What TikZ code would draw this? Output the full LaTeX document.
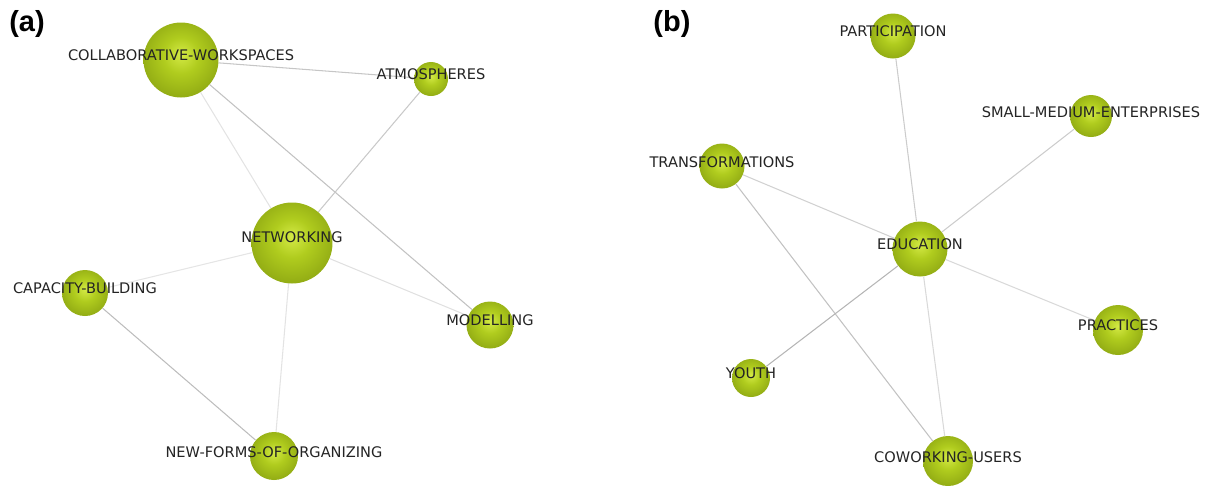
\documentclass[tikz,border=0pt]{standalone}
\usepackage{fontspec}
\setmainfont{DejaVu Sans}
\newfontfamily\panelfont{Liberation Sans}
\usepackage{xcolor}
\usetikzlibrary{backgrounds}
\definecolor{xlimehi}{RGB}{212,234,70}
\definecolor{xlime}{RGB}{176,204,30}
\definecolor{xolive}{RGB}{128,152,14}
\definecolor{xrim}{RGB}{86,102,8}
\definecolor{xtext}{RGB}{36,36,36}
\pgfdeclareradialshading{kwshade}{\pgfpoint{0bp}{4bp}}{%
  color(0bp)=(xlimehi); color(12bp)=(xlime); color(36bp)=(xolive);
  color(46bp)=(xrim); color(50bp)=(xrim)}

\begin{document}
\begin{tikzpicture}[
  x=0.02cm, y=-0.02cm,
  kwball/.style={circle, inner sep=0pt, minimum size=#1, shading=kwshade},
  kwlabel/.style={font=\fontsize{8.3}{9}\selectfont, text=xtext, inner sep=0pt},
  panel/.style={font=\panelfont\fontsize{16.5}{18}\selectfont\bfseries, text=black},
  link/.style={line width=0.6pt, color=gray!#1}
]
  \useasboundingbox (0,0) rectangle (1207,485);

  % panel (a)
  \node[panel] (pa) at (27,24) {(a)};
  \node[kwball=1.50cm, label={[kwlabel, yshift=0.09cm]center:COLLABORATIVE-WORKSPACES}] (CW) at (181,60) {};
  \node[kwball=0.68cm, label={[kwlabel, yshift=0.09cm]center:ATMOSPHERES}]              (AT) at (431,79) {};
  \node[kwball=1.62cm, label={[kwlabel, yshift=0.11cm]center:NETWORKING}]               (NW) at (292,243) {};
  \node[kwball=0.92cm, label={[kwlabel, yshift=0.10cm]center:CAPACITY-BUILDING}]        (CB) at (85,293) {};
  \node[kwball=0.94cm, label={[kwlabel, yshift=0.10cm]center:MODELLING}]                (MO) at (490,325) {};
  \node[kwball=0.96cm, label={[kwlabel, yshift=0.08cm]center:NEW-FORMS-OF-ORGANIZING}]  (NF) at (274,456) {};

  % panel (b)
  \node[panel] (pb) at (672,24) {(b)};
  \node[kwball=0.90cm, label={[kwlabel, yshift=0.10cm]center:PARTICIPATION}]            (PA) at (893,36) {};
  \node[kwball=0.84cm, label={[kwlabel, yshift=0.08cm]center:SMALL-MEDIUM-ENTERPRISES}] (SM) at (1091,116) {};
  \node[kwball=0.90cm, label={[kwlabel, yshift=0.08cm]center:TRANSFORMATIONS}]          (TR) at (722,166) {};
  \node[kwball=1.10cm, label={[kwlabel, yshift=0.10cm]center:EDUCATION}]                (ED) at (920,249) {};
  \node[kwball=1.00cm, label={[kwlabel, yshift=0.10cm]center:PRACTICES}]                (PR) at (1118,330) {};
  \node[kwball=0.76cm, label={[kwlabel, yshift=0.10cm]center:YOUTH}]                    (YO) at (751,378) {};
  \node[kwball=1.00cm, label={[kwlabel, yshift=0.07cm]center:COWORKING-USERS}]          (CU) at (948,461) {};

  \begin{scope}[on background layer]
    \foreach \from/\to/\shade in {CW/AT/45, CW/NW/22, CW/MO/48, AT/NW/42, NW/CB/20,
                                  NW/MO/24, NW/NF/22, CB/NF/52,
                                  PA/ED/40, SM/ED/40, TR/ED/36, TR/CU/48, ED/PR/30,
                                  ED/YO/58, ED/CU/30}
      \draw[link=\shade] (\from) -- (\to);
  \end{scope}
\end{tikzpicture}
\end{document}
